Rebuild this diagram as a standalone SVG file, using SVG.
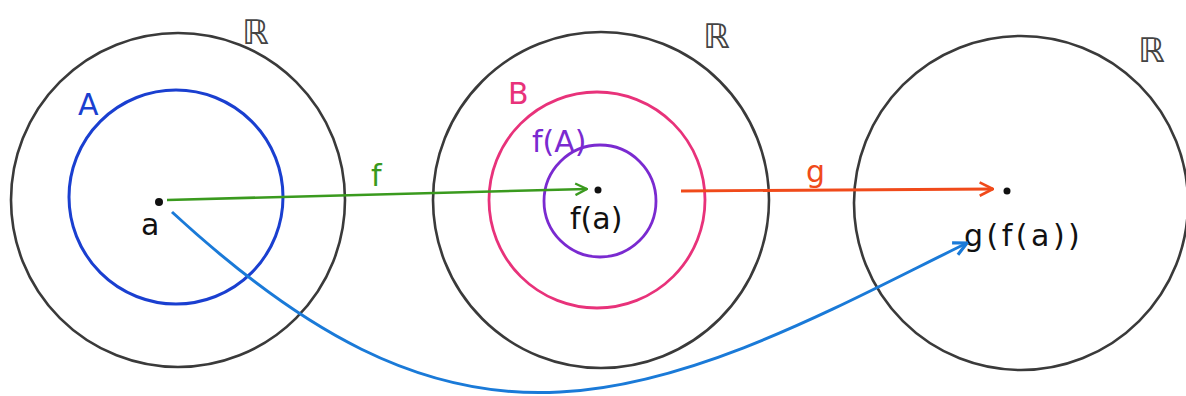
<svg xmlns="http://www.w3.org/2000/svg" width="1186" height="396" viewBox="0 0 1186 396">
<defs>
<style>
.real{fill:none;stroke:#3a3a3a;stroke-width:2.6}
.lbl{font-family:"DejaVu Sans",sans-serif;font-size:30px}
.R{font-family:"DejaVu Sans",sans-serif;font-size:34px;fill:#444}
</style>
<marker id="mG" viewBox="0 0 12 12" refX="11" refY="6" markerWidth="14" markerHeight="14" markerUnits="userSpaceOnUse" orient="auto"><path d="M1,1 L11,6 L1,11" fill="none" stroke="#3a9a1e" stroke-width="2"/></marker>
<marker id="mO" viewBox="0 0 12 12" refX="11" refY="6" markerWidth="16" markerHeight="16" markerUnits="userSpaceOnUse" orient="auto"><path d="M1,1 L11,6 L1,11" fill="none" stroke="#f04a1a" stroke-width="2"/></marker>
<marker id="mB" viewBox="0 0 12 12" refX="11" refY="6" markerWidth="16" markerHeight="16" markerUnits="userSpaceOnUse" orient="auto"><path d="M1,1 L11,6 L1,11" fill="none" stroke="#1a7ad8" stroke-width="2.4"/></marker>
</defs>
<rect width="1186" height="396" fill="#fff"/>
<g id="set1">
<circle class="real" cx="178" cy="200" r="167"/>
<text class="R" x="242" y="44">ℝ</text>
<circle cx="176" cy="197" r="107" fill="none" stroke="#1a3fd0" stroke-width="3"/>
<text class="lbl" x="78" y="115" fill="#1a3fd0" font-size="32">A</text>
<circle cx="159" cy="202" r="4" fill="#111"/>
<text class="lbl" x="141" y="235" fill="#111" font-size="40">a</text>
</g>
<g id="set2">
<circle class="real" cx="601" cy="200" r="168"/>
<text class="R" x="703" y="48">ℝ</text>
<circle cx="597" cy="200" r="108" fill="none" stroke="#e8327a" stroke-width="2.8"/>
<text class="lbl" x="508" y="104" fill="#e8327a" font-size="34">B</text>
<circle cx="600" cy="201" r="56" fill="none" stroke="#7a2ad0" stroke-width="2.8"/>
<text class="lbl" x="532" y="152" fill="#7a2ad0" font-size="31">f(A)</text>
<circle cx="598" cy="190" r="3.5" fill="#111"/>
<text class="lbl" x="570" y="229" fill="#111" font-size="33">f(a)</text>
</g>
<g id="set3">
<circle class="real" cx="1021" cy="203" r="167"/>
<text class="R" x="1138" y="62">ℝ</text>
<circle cx="1007" cy="191" r="3.5" fill="#111"/>
<text class="lbl" x="964" y="246" fill="#111" font-size="33" letter-spacing="3.5">g(f(a))</text>
</g>
<g id="connectors">
<line x1="167" y1="200" x2="587" y2="189" stroke="#3a9a1e" stroke-width="2.6" marker-end="url(#mG)"/>
<text class="lbl" x="371" y="186" fill="#3a9a1e" font-size="34">f</text>
<line x1="681" y1="191" x2="993" y2="189" stroke="#f04a1a" stroke-width="2.8" marker-end="url(#mO)"/>
<text class="lbl" x="806" y="182" fill="#f04a1a" font-size="36">g</text>
<path d="M172,212 C300,330 420,400 560,392 C700,385 850,300 967,243" fill="none" stroke="#1a7ad8" stroke-width="3" marker-end="url(#mB)"/>
</g>
</svg>
